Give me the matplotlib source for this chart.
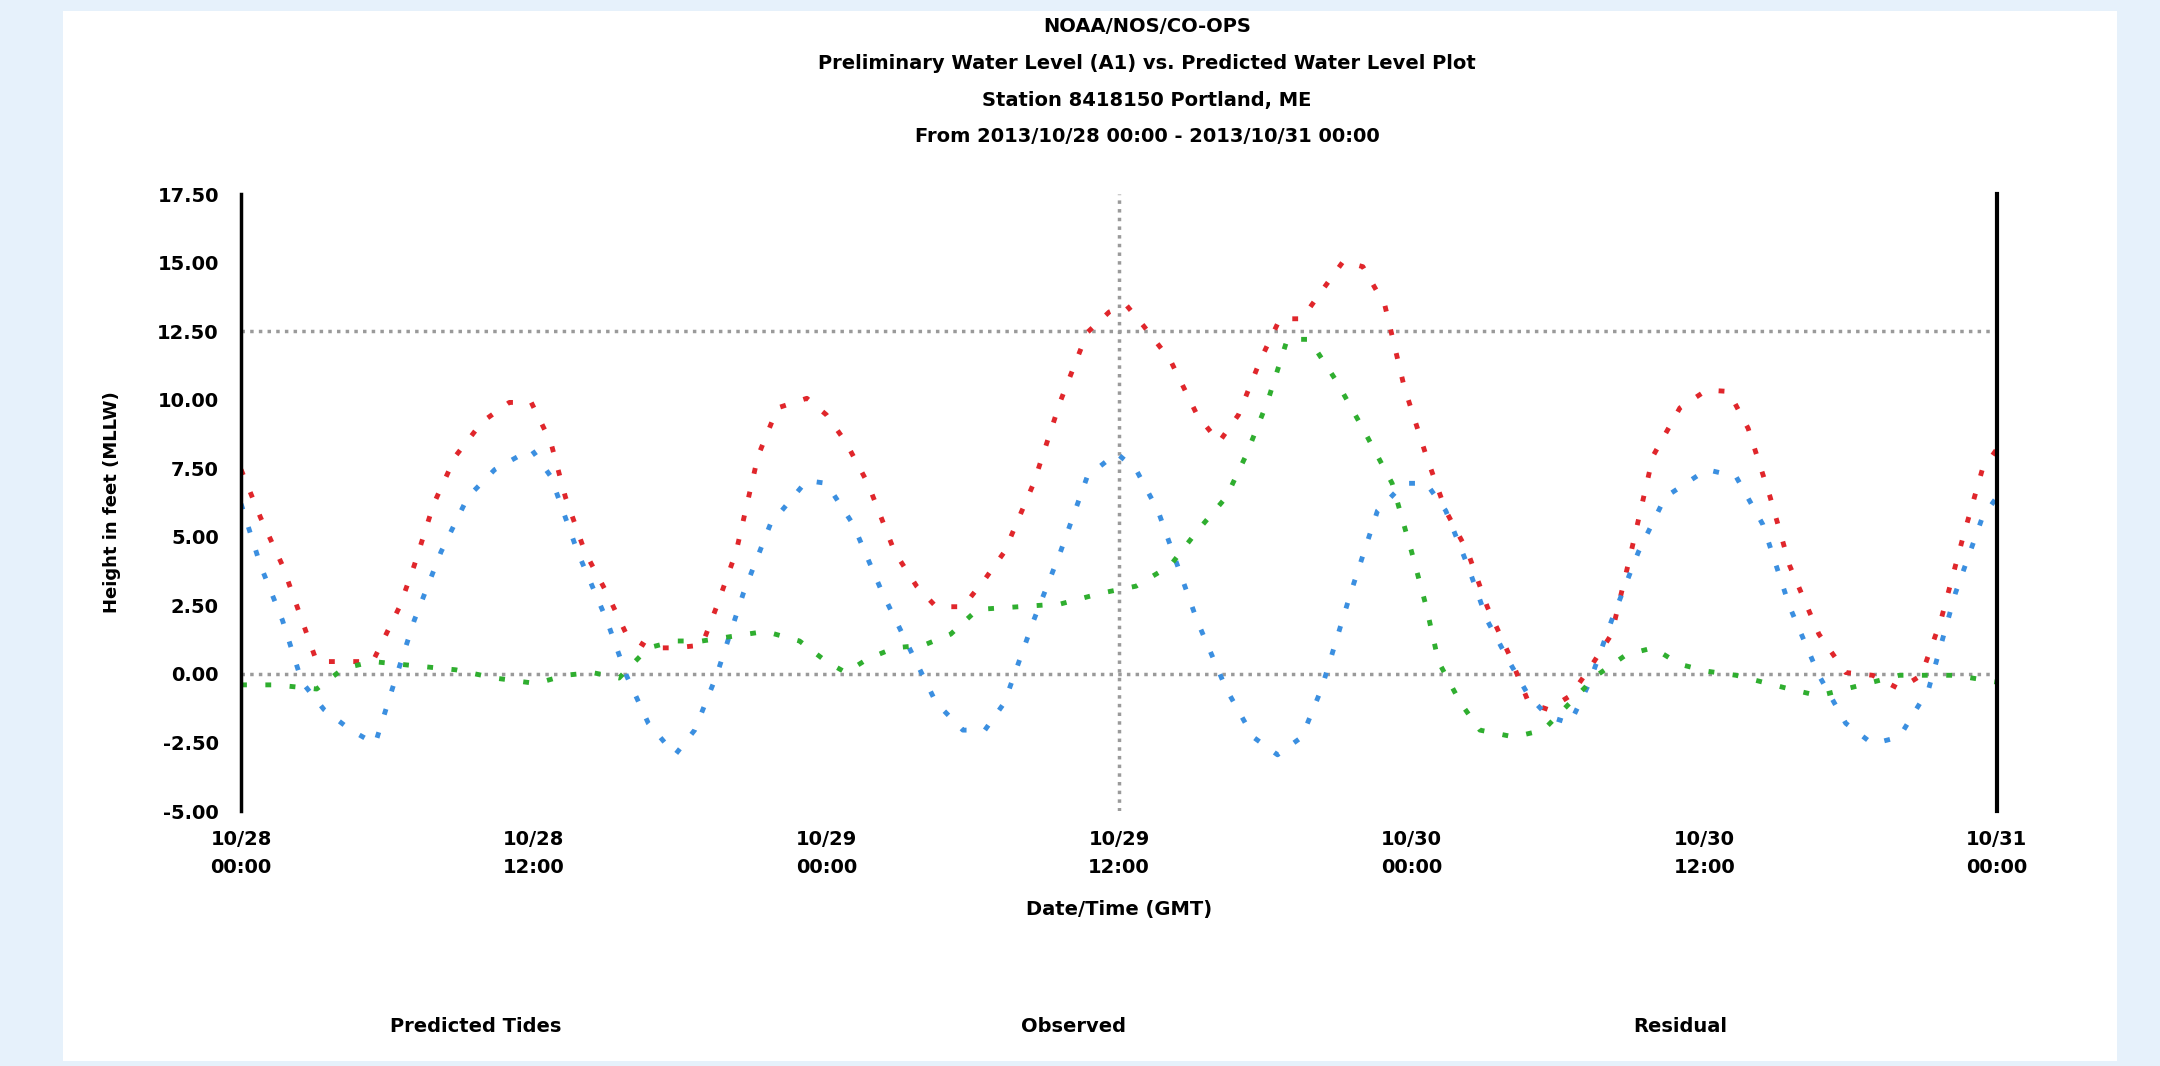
import matplotlib
matplotlib.use('Agg')
import matplotlib.pyplot as plt
from matplotlib.patches import Rectangle

# ── data (hours from start, feet) ────────────────────────────────────────────
obs_t = [0.0, 0.8, 1.7, 2.5, 3.1, 5.4, 6.5, 7.1, 7.9, 8.8, 9.9, 11.0, 11.9,
         12.7, 13.3, 14.1, 15.0, 15.8, 16.7, 17.8, 18.9, 19.5, 20.3, 21.2,
         22.0, 23.2, 24.0, 24.8, 25.7, 26.8, 27.7, 28.5, 29.6, 30.5, 31.3,
         32.5, 33.6, 34.7, 35.6, 36.3, 37.0, 38.1, 39.2, 40.1, 40.9, 41.8,
         42.6, 43.5, 44.3, 45.2, 46.0, 46.9, 47.7, 48.6, 49.4, 50.3, 51.1,
         52.0, 52.8, 53.6, 54.5, 55.3, 56.2, 57.0, 57.9, 59.0, 60.1, 61.0,
         61.8, 62.7, 63.5, 64.7, 65.8, 66.9, 68.0, 68.9, 69.7, 70.6, 71.4, 72.0]
obs_v = [7.45, 5.7, 3.95, 1.95, 0.45, 0.45, 2.45, 3.95, 6.2, 7.95, 9.2, 9.9, 9.9,
         8.45, 6.45, 4.45, 2.95, 1.45, 0.95, 0.95, 1.05, 2.45, 4.45, 7.95,
         9.7, 10.05, 9.45, 8.45, 6.95, 4.45, 3.2, 2.45, 2.45, 3.45, 4.45,
         6.95, 9.95, 12.45, 13.2, 13.45, 12.7, 11.45, 9.45, 8.45, 9.45, 11.45,
         12.95, 12.95, 13.95, 15.05, 14.85, 13.45, 10.45, 7.95, 5.95, 4.45, 2.45,
         0.7, -1.05, -1.3, -0.8, 0.2, 1.45, 4.45, 7.95, 9.7, 10.35, 10.3,
         8.95, 6.45, 3.95, 1.45, 0.05, -0.05, -0.55, -0.05, 1.95, 4.95, 7.45, 8.2]

pred_t = [0.0, 0.8, 1.7, 2.5, 3.4, 4.5, 5.5, 6.2, 7.1, 8.2, 9.3, 10.4, 11.9,
          12.7, 13.8, 15.0, 15.8, 16.7, 17.8, 18.6, 19.5, 20.6, 21.7, 23.2,
          24.0, 25.1, 26.3, 27.4, 28.5, 29.6, 30.5, 31.3, 32.5, 33.6, 34.7,
          35.9, 36.7, 37.6, 38.4, 39.2, 40.4, 41.5, 42.5, 43.5, 44.3, 45.5,
          46.6, 47.7, 48.6, 49.4, 50.3, 51.1, 52.0, 52.8, 53.6, 54.5, 55.3,
          56.2, 57.3, 58.4, 60.1, 61.3, 62.4, 63.5, 64.7, 65.8, 66.9, 68.0,
          69.2, 70.3, 71.4, 72.0]
pred_v = [6.2, 3.95, 1.95, -0.3, -1.3, -2.05, -2.55, -0.55, 1.95, 4.45, 6.45, 7.45, 8.2,
          7.2, 4.45, 1.95, -0.05, -1.8, -2.95, -2.05, -0.05, 2.95, 5.45, 7.05,
          6.95, 5.45, 2.95, 0.95, -1.05, -2.05, -2.05, -1.05, 1.95, 4.45, 7.2,
          8.05, 7.45, 5.95, 3.95, 1.95, -0.55, -2.3, -2.95, -2.3, -0.55, 2.95,
          5.95, 6.95, 6.95, 5.95, 3.95, 1.95, 0.45, -0.8, -1.55, -1.8, -0.3,
          1.95, 4.45, 6.45, 7.45, 7.2, 5.45, 2.45, -0.05, -1.8, -2.55, -2.3,
          -0.55, 2.95, 5.7, 6.45]

res_t = [0.0, 1.4, 3.1, 4.2, 5.4, 7.1, 8.8, 10.4, 12.1, 13.3, 14.4, 15.5, 16.7,
         17.8, 18.9, 20.0, 21.5, 22.9, 24.0, 24.8, 25.7, 26.8, 28.0, 29.1,
         30.2, 31.9, 33.6, 35.3, 36.7, 38.1, 39.2, 40.4, 41.2, 42.1, 42.9,
         43.8, 44.9, 46.0, 47.2, 48.0, 48.6, 49.1, 50.0, 50.8, 52.2, 53.4,
         54.5, 55.6, 56.8, 57.9, 59.0, 60.1, 61.3, 62.4, 63.5, 64.7, 65.8,
         66.9, 68.0, 69.2, 70.3, 72.0]
res_v = [-0.4, -0.4, -0.55, 0.2, 0.45, 0.3, 0.15, -0.15, -0.35, -0.05, 0.05, -0.15, 0.95,
         1.2, 1.2, 1.35, 1.55, 1.2, 0.45, 0.05, 0.55, 0.95, 1.05, 1.45,
         2.35, 2.45, 2.55, 2.95, 3.2, 3.95, 5.2, 6.45, 7.95, 9.95, 12.2,
         12.2, 10.7, 8.95, 6.95, 4.45, 2.45, 0.45, -1.05, -2.05, -2.3, -2.05,
         -1.05, -0.05, 0.7, 0.95, 0.35, 0.1, -0.05, -0.3, -0.55, -0.8, -0.55,
         -0.3, -0.05, -0.05, -0.05, -0.3]

x_ticks = [0, 12, 24, 36, 48, 60, 72]
x_labels = ['10/28\n00:00', '10/28\n12:00', '10/29\n00:00', '10/29\n12:00',
            '10/30\n00:00', '10/30\n12:00', '10/31\n00:00']
y_ticks = [-5.0, -2.5, 0.0, 2.5, 5.0, 7.5, 10.0, 12.5, 15.0, 17.5]
ref_levels = [0.0, 12.5]

title_lines = ['NOAA/NOS/CO-OPS',
               'Preliminary Water Level (A1) vs. Predicted Water Level Plot',
               'Station 8418150 Portland, ME',
               'From 2013/10/28 00:00 - 2013/10/31 00:00']
legend_names = ['Predicted Tides', 'Observed', 'Residual']

C_OBS = '#e0262b'
C_PRED = '#3b8fe0'
C_RES = '#2fae2f'
C_GRID = '#9a9a9a'

# ── figura ───────────────────────────────────────────────────────────────────
fig = plt.figure(figsize=(21.6, 10.66), dpi=100, facecolor='#e6f1fb')
fig.patches.append(Rectangle((0.029, 0.005), 0.951, 0.985, transform=fig.transFigure,
                             facecolor='white', edgecolor='none', zorder=-5))

ax = fig.add_axes([0.1116, 0.2392, 0.8129, 0.5788])
ax.set_facecolor('white')

dots = (0, (1.2, 3.8))
ax.plot(obs_t, obs_v, color=C_OBS, lw=3.5, linestyle=dots)
ax.plot(pred_t, pred_v, color=C_PRED, lw=3.5, linestyle=dots)
ax.plot(res_t, res_v, color=C_RES, lw=3.5, linestyle=dots)

for lvl in ref_levels:
    ax.axhline(lvl, color=C_GRID, lw=2.5, linestyle=(0, (1, 1.5)), zorder=0)
ax.axvline(36, color=C_GRID, lw=2.5, linestyle=(0, (1, 1.5)), zorder=0)

ax.set_xlim(0, 72)
ax.set_ylim(-5, 17.5)
ax.set_xticks(x_ticks)
ax.set_xticklabels(x_labels, fontsize=14, fontweight='bold', linespacing=1.6)
ax.set_yticks(y_ticks)
ax.set_yticklabels([f'{v:.2f}' for v in y_ticks], fontsize=14, fontweight='bold')
ax.set_yticks(ref_levels, minor=True)
ax.tick_params(axis='x', length=0, pad=14)
ax.tick_params(axis='y', which='major', length=0, pad=16)
ax.tick_params(axis='y', which='minor', direction='in', length=9, width=2.5)

for side in ['top', 'bottom']:
    ax.spines[side].set_visible(False)
ax.spines['left'].set_linewidth(2.5)
ax.spines['right'].set_linewidth(3)

ax.set_xlabel('Date/Time (GMT)', fontsize=14, fontweight='bold', labelpad=16)
ax.set_ylabel('Height in feet (MLLW)', fontsize=13, fontweight='bold', labelpad=26)

for i, line in enumerate(title_lines):
    fig.text(0.531, 0.975 - i * 0.0345, line, ha='center', va='center',
             fontsize=14, fontweight='bold')

for xc, name in zip([0.22, 0.497, 0.778], legend_names):
    fig.text(xc, 0.037, name, ha='center', va='center', fontsize=14, fontweight='bold')

plt.savefig('out.png', dpi=100, facecolor=fig.get_facecolor())
plt.close()
